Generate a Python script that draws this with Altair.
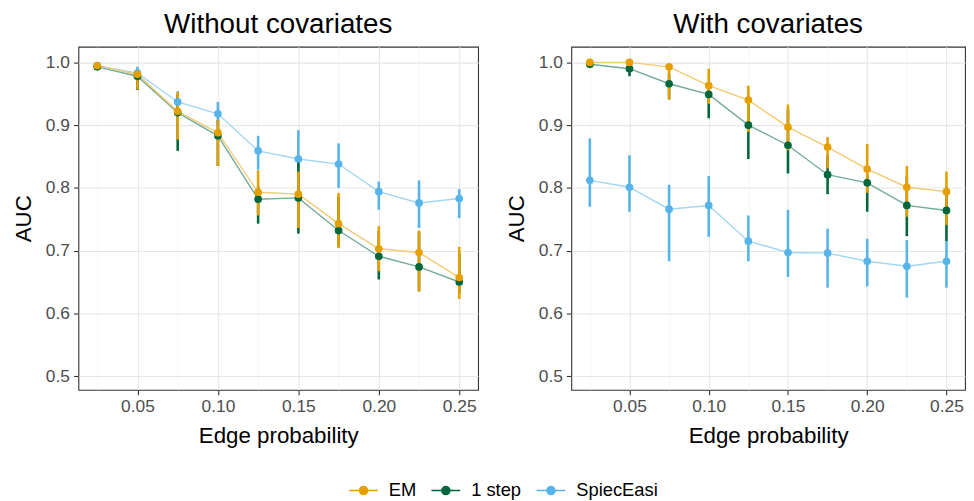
import altair as alt
import pandas as pd

methods = ["EM", "1 step", "SpiecEasi"]
colors = ["#E69F00", "#00663C", "#56B4E9"]
line_colors = ["#F1CA73", "#73AB94", "#A2D6F3"]
edge_prob = [0.025, 0.05, 0.075, 0.10, 0.125, 0.15, 0.175, 0.20, 0.225, 0.25]

# Without covariates
wo_em = [0.995, 0.981, 0.922, 0.888, 0.793, 0.790, 0.743, 0.703, 0.697, 0.657]
wo_em_lo = [0.990, 0.957, 0.877, 0.835, 0.756, 0.736, 0.704, 0.667, 0.635, 0.623]
wo_em_hi = [0.999, 0.987, 0.953, 0.908, 0.828, 0.826, 0.792, 0.739, 0.732, 0.706]
wo_1s = [0.993, 0.978, 0.920, 0.883, 0.782, 0.784, 0.732, 0.691, 0.674, 0.650]
wo_1s_lo = [0.988, 0.956, 0.859, 0.835, 0.743, 0.727, 0.707, 0.654, 0.635, 0.632]
wo_1s_hi = [0.998, 0.985, 0.948, 0.908, 0.802, 0.844, 0.786, 0.731, 0.729, 0.696]
wo_se = [0.995, 0.983, 0.937, 0.918, 0.859, 0.846, 0.838, 0.794, 0.776, 0.783]
wo_se_lo = [0.990, 0.969, 0.925, 0.900, 0.829, 0.797, 0.800, 0.765, 0.736, 0.752]
wo_se_hi = [0.999, 0.993, 0.954, 0.937, 0.883, 0.892, 0.871, 0.810, 0.812, 0.798]

# With covariates
wi_em = [1.000, 1.000, 0.993, 0.963, 0.940, 0.897, 0.865, 0.830, 0.801, 0.794]
wi_em_lo = [0.998, 0.997, 0.941, 0.934, 0.889, 0.860, 0.831, 0.792, 0.754, 0.741]
wi_em_hi = [1.000, 1.000, 0.998, 0.990, 0.963, 0.933, 0.881, 0.870, 0.835, 0.826]
wi_1s = [0.997, 0.990, 0.966, 0.949, 0.900, 0.868, 0.821, 0.808, 0.772, 0.764]
wi_1s_lo = [0.994, 0.978, 0.941, 0.911, 0.846, 0.823, 0.790, 0.762, 0.723, 0.715]
wi_1s_hi = [0.999, 0.995, 0.982, 0.966, 0.934, 0.925, 0.852, 0.821, 0.818, 0.802]
wi_se = [0.812, 0.801, 0.766, 0.772, 0.715, 0.697, 0.696, 0.683, 0.675, 0.683]
wi_se_lo = [0.770, 0.762, 0.683, 0.722, 0.683, 0.658, 0.641, 0.643, 0.625, 0.641]
wi_se_hi = [0.879, 0.852, 0.805, 0.819, 0.756, 0.765, 0.735, 0.719, 0.717, 0.715]

x_grid = [0.025, 0.05, 0.075, 0.10, 0.125, 0.15, 0.175, 0.20, 0.225, 0.25]
y_grid = [0.5, 0.55, 0.6, 0.65, 0.7, 0.75, 0.8, 0.85, 0.9, 0.95, 1.0]


def build_df(series):
    rows = []
    # draw order: SpiecEasi first, EM last (on top)
    for m in ["SpiecEasi", "1 step", "EM"]:
        mean, lo, hi = series[m]
        for x, v, l, h in zip(edge_prob, mean, lo, hi):
            rows.append({"p": x, "auc": v, "lo": l, "hi": h, "method": m,
                         "line_key": "line " + m})
    return pd.DataFrame(rows)


df_wo = build_df({"EM": (wo_em, wo_em_lo, wo_em_hi),
                  "1 step": (wo_1s, wo_1s_lo, wo_1s_hi),
                  "SpiecEasi": (wo_se, wo_se_lo, wo_se_hi)})
df_wi = build_df({"EM": (wi_em, wi_em_lo, wi_em_hi),
                  "1 step": (wi_1s, wi_1s_lo, wi_1s_hi),
                  "SpiecEasi": (wi_se, wi_se_lo, wi_se_hi)})

FONT = "Liberation Sans"
x_major = "round(datum.value*1000) % 50 == 0"
y_major = "round(datum.value*100) % 10 == 0"

x_axis = alt.Axis(
    values=x_grid, title="Edge probability", domain=False,
    labelExpr=f"{x_major} ? format(datum.value, '.2f') : ''",
    tickOpacity={"condition": {"test": x_major, "value": 1}, "value": 0},
    gridColor={"condition": {"test": x_major, "value": "#E6E6E6"}, "value": "#F2F2F2"},
    gridWidth={"condition": {"test": x_major, "value": 1.1}, "value": 0.6},
    tickColor="#333333", tickSize=5, tickWidth=1.1,
    labelColor="#4D4D4D", labelFontSize=17.5, labelFont=FONT, labelPadding=3,
    titleFont=FONT, titleFontSize=22.5, titleFontWeight="normal", titleColor="#000000",
    titlePadding=10, labelFlush=False,
)
y_axis = alt.Axis(
    values=y_grid, title="AUC", domain=False,
    labelExpr=f"{y_major} ? format(datum.value, '.1f') : ''",
    tickOpacity={"condition": {"test": y_major, "value": 1}, "value": 0},
    gridColor={"condition": {"test": y_major, "value": "#E6E6E6"}, "value": "#F2F2F2"},
    gridWidth={"condition": {"test": y_major, "value": 1.1}, "value": 0.6},
    tickColor="#333333", tickSize=5, tickWidth=1.1,
    labelColor="#4D4D4D", labelFontSize=17.5, labelFont=FONT, labelPadding=4,
    titleFont=FONT, titleFontSize=22.5, titleFontWeight="normal", titleColor="#000000",
    titlePadding=10, labelFlush=False,
)

x_scale = alt.Scale(domain=[0.0133, 0.2617], nice=False, zero=False)
y_scale = alt.Scale(domain=[0.478, 1.025], nice=False, zero=False)

legend_path = "M-1,0H1M0.28,0A0.28,0.28,0,1,1,-0.28,0A0.28,0.28,0,1,1,0.28,0Z"
leg = alt.Legend(
    title=None, orient="none", direction="horizontal", legendX=272, legendY=432,
    symbolType=legend_path, symbolSize=841, symbolStrokeWidth=1.6,
    labelFont=FONT, labelFontSize=18.5, labelColor="#000000", columnPadding=11,
    labelOffset=10,
)
col_scale = alt.Scale(domain=methods, range=colors)
line_scale = alt.Scale(domain=["line " + m for m in methods], range=line_colors)


def panel(df, title, width):
    base = alt.Chart(df)
    x = alt.X("p:Q", scale=x_scale, axis=x_axis)
    y = alt.Y("auc:Q", scale=y_scale, axis=y_axis)
    lines = base.mark_line(strokeWidth=1.4).encode(
        x=x, y=y,
        color=alt.Color("line_key:N", scale=line_scale, legend=None),
    )
    bars = base.mark_rule(strokeWidth=2.6).encode(
        x=x, y=alt.Y("lo:Q", scale=y_scale), y2="hi:Q",
        stroke=alt.Stroke("method:N", scale=col_scale, legend=leg),
    )
    pts = base.mark_point(filled=True, size=60, opacity=1).encode(
        x=x, y=y,
        fill=alt.Fill("method:N", scale=col_scale, legend=leg),
    )
    return alt.layer(lines, bars, pts).properties(
        width=width, height=346,
        title=alt.Title(title, font=FONT, fontSize=28, fontWeight="normal",
                        color="#000000", anchor="middle", offset=8),
    )


chart = alt.hconcat(
    panel(df_wo, "Without covariates", 403),
    panel(df_wi, "With covariates", 397),
    spacing=26,
).resolve_scale(stroke="shared", fill="shared", color="shared").properties(
    padding={"left": 4, "top": 0, "right": 0, "bottom": 0}
).configure(font=FONT).configure_view(
    stroke="#333333", strokeWidth=1.1
)

chart.save("out.html", embed_options={"renderer": "svg", "actions": False})
